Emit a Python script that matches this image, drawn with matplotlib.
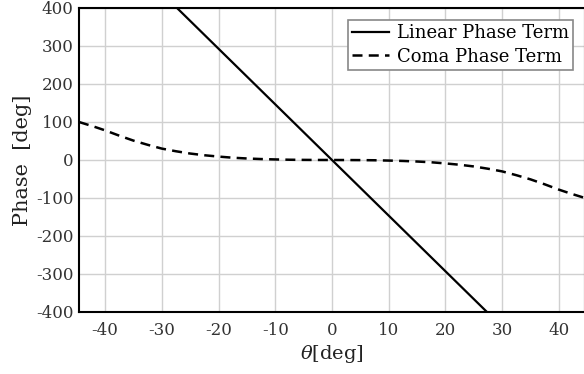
import matplotlib.pyplot as plt

# scan angle in degrees
theta_lin = [-44.6, 44.6]
phase_lin = [653, -653]

theta_coma = [-44.6, -42, -40, -37.5, -35, -32.5, -30, -27.5, -25, -22.5, -20, -17.5, -15, -12.5, -10, -7.5, -5, -2.5, 0,
              2.5, 5, 7.5, 10, 12.5, 15, 17.5, 20, 22.5, 25, 27.5, 30, 32.5, 35, 37.5, 40, 42, 44.6]
phase_coma = [100, 88, 78, 64, 51, 40, 30, 23, 17, 12.5, 9, 6, 4, 2.5, 1.5, 0.7, 0.3, 0.1, 0,
              -0.1, -0.3, -0.7, -1.5, -2.5, -4, -6, -9, -12.5, -17, -23, -30, -40, -51, -64, -78, -88, -100]

xticks = [-40, -30, -20, -10, 0, 10, 20, 30, 40]
yticks = [-400, -300, -200, -100, 0, 100, 200, 300, 400]

plt.rcParams['font.family'] = ['DejaVu Serif']
plt.rcParams['mathtext.fontset'] = 'dejavuserif'
plt.rcParams['axes.unicode_minus'] = False

fig = plt.figure(figsize=(5.84, 3.74), dpi=100)
ax = fig.add_axes([79/584, 62/374, 506/584, 304/374])

ax.plot(theta_lin, phase_lin, color='black', lw=1.6, label='Linear Phase Term')
ax.plot(theta_coma, phase_coma, color='black', lw=1.8, ls=(0, (4, 2.5)), label='Coma Phase Term')

ax.set_xlim(-44.6, 44.6)
ax.set_ylim(-400, 400)
ax.set_xticks(xticks)
ax.set_yticks(yticks)
ax.grid(True, color='#d0d0d0', lw=1.0)
ax.set_axisbelow(True)
ax.tick_params(length=0, labelsize=12, labelcolor='#333333')
ax.tick_params(axis='y', pad=4)
ax.tick_params(axis='x', pad=7)
for s in ax.spines.values():
    s.set_linewidth(1.5)

ax.set_xlabel(r'$\theta$[deg]', fontsize=14, color='#222222', labelpad=3)
ax.set_ylabel('Phase  [deg]', fontsize=15, color='#222222', labelpad=3)

leg = ax.legend(loc='upper right', fontsize=13, fancybox=False, framealpha=1,
                edgecolor='#888888', borderpad=0.25, labelspacing=0.3,
                handlelength=2.0, handletextpad=0.45, borderaxespad=0.65)
leg.get_frame().set_linewidth(1.2)

fig.savefig('out.png', dpi=100)
